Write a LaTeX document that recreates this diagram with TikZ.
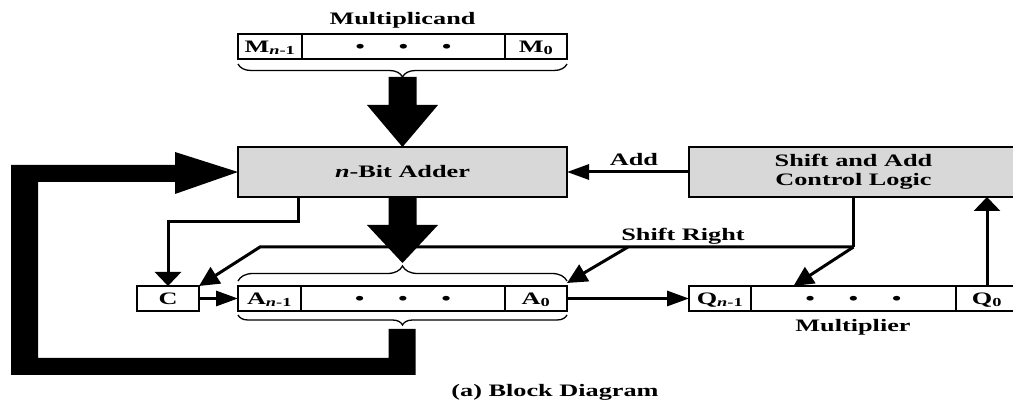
\documentclass[tikz,border=0pt]{standalone}
\usepackage{fontspec}
\setmainfont[FakeStretch=1.5]{Liberation Serif}
\usetikzlibrary{arrows.meta,decorations.pathreplacing}
\definecolor{boxgray}{RGB}{216,216,216}
\newcommand{\threedots}{\textbullet\hspace{34pt}\textbullet\hspace{34pt}\textbullet}
\begin{document}
\begin{tikzpicture}[x=1pt,y=-1pt,
  font=\fontsize{17.5}{20}\selectfont\bfseries,
  cell/.style={draw, line width=1.7pt, minimum height=25pt, inner sep=0pt, outer sep=0pt,
    text height=11.5pt, text depth=0pt, anchor=north west},
  blockbox/.style={draw, line width=1.7pt, fill=boxgray, minimum width=329pt, minimum height=50pt,
    inner sep=0pt, outer sep=0pt, anchor=north west, align=center},
  conn/.style={line width=3pt},
  harr/.style={-{Triangle[length=22pt,width=15pt]}},
  varr/.style={-{Triangle[length=14pt,width=26pt]}},
  darr/.style={-{Triangle[length=20pt,width=19pt]}},
  bracestyle/.style={line width=1.3pt, decorate},
  lbl/.style={anchor=base, inner sep=0pt}
]
\useasboundingbox (0,0) rectangle (1013,403);

% multiplicand register
\node[cell, minimum width=64pt]  (mL) at (238,34) {M\textsubscript{\textit{n}-1}};
\node[cell, minimum width=203pt] (mD) at (302,34) {\threedots};
\node[cell, minimum width=62pt]  (mR) at (505,34) {M\textsubscript{0}};
\node[lbl] (lmcand) at (402.5,25) {Multiplicand};

% adder and control logic
\node[blockbox] (adder) at (238,147) {\textit{n}-Bit Adder};
\node[blockbox] (ctrl) at (689,147) {\raisebox{-2pt}{\begin{tabular}{@{}c@{}}Shift and Add\\[-1pt]Control Logic\end{tabular}}};

% C, A and Q registers
\node[cell, minimum width=62pt]  (C)  at (137,286) {C};
\node[cell, minimum width=63pt]  (aL) at (238,286) {A\textsubscript{\textit{n}-1}};
\node[cell, minimum width=204pt] (aD) at (301,286) {\threedots};
\node[cell, minimum width=62pt]  (aR) at (505,286) {A\textsubscript{0}};
\node[cell, minimum width=62pt]  (qL) at (689,286) {Q\textsubscript{\textit{n}-1}};
\node[cell, minimum width=205pt] (qD) at (751,286) {\threedots};
\node[cell, minimum width=62pt]  (qR) at (956,286) {Q\textsubscript{0}};

% labels
\node[lbl] (ladd) at (634,166) {Add};
\node[lbl] (lsr) at (683,241) {Shift Right};
\node[lbl] (lmult) at (853,332) {Multiplier};
\node[lbl] (lcap) at (555,397) {(a) Block Diagram};

% braces
\draw[bracestyle, decoration={brace, amplitude=13pt}] (567,64) -- (238,64);
\draw[bracestyle, decoration={brace, amplitude=15pt}] (238,281) -- (567,281);
\draw[bracestyle, decoration={brace, amplitude=10pt}] (567,315) -- (238,315);

% thick data paths
\fill (388.5,77) -- (416.5,77) -- (416.5,105) -- (438,105) -- (adder.north)
      -- (367,105) -- (388.5,105) -- cycle;
\fill (388.5,197) -- (416.5,197) -- (416.5,225) -- (438,225) -- (402.5,263)
      -- (367,225) -- (388.5,225) -- cycle;
\fill (388.5,329) -- (415.5,329) -- (415.5,375) -- (11,375) -- (11,165) -- (175,165)
      -- (175,152) -- (adder.west) -- (175,194) -- (175,182) -- (38,182) -- (38,358)
      -- (388.5,358) -- cycle;

% control connectors
\draw[conn, harr] (ctrl.west) -- (adder.east);
\draw[conn, varr] ([xshift=60pt]adder.south west) -- ++(0,25) -| (C.north);
\draw[conn] (ctrl.south) -- ++(0,50) coordinate (srj);
\coordinate (srl) at (260,247);
\coordinate (srb) at (628,247);
\draw[conn, darr] (srj) -- ([xshift=-60pt]qD.north);
\draw[conn, darr] (srj) -- (srl) -- (C.north east);
\draw[conn, darr] (srb) -- ([yshift=3pt]aR.north east);
\draw[conn, harr] (C.east) -- (aL.west);
\draw[conn, harr] (aR.east) -- (qL.west);
\draw[conn, varr] (qR.north) -- (qR.north |- ctrl.south);
\end{tikzpicture}
\end{document}
